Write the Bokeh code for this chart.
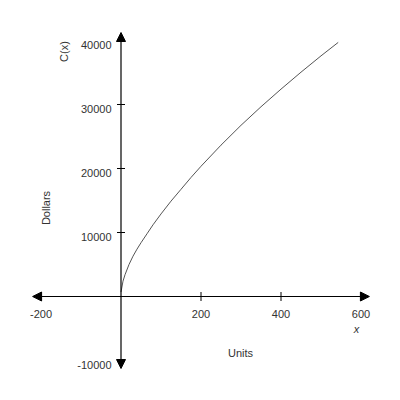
import math
from bokeh.plotting import figure
from bokeh.models import Range1d, Arrow, NormalHead, Label, ColumnDataSource
from bokeh.core.properties import value
from bokeh.embed import file_html
from bokeh.resources import INLINE

# ---- data ----
units = [0, 5, 10, 20, 30, 40, 50, 65, 80, 100, 125, 150, 175, 200, 250, 300, 350, 400, 450, 500, 543]
cost = [700, 2400, 3400, 5000, 6300, 7400, 8400, 9800, 11200, 12900, 14900, 16750, 18600, 20350,
        23650, 26750, 29650, 32400, 35050, 37600, 39700]

x_ticks = [-200, 200, 400, 600]
x_tick_labels = ["-200", "200", "400", "600"]
y_ticks = [-10000, 10000, 20000, 30000, 40000]
y_tick_labels = ["-10000", "10000", "20000", "30000", "40000"]

x_axis_span = (-221, 621)
y_axis_span = (-11250, 41250)

FONT = value("Liberation Sans")

p = figure(width=384, height=384, output_backend="svg", toolbar_location=None,
           x_axis_type=None, y_axis_type=None,
           x_range=Range1d(-301.25, 658.75), y_range=Range1d(-13750, 46250),
           min_border=0, min_border_left=0, min_border_right=0,
           min_border_top=0, min_border_bottom=0)
p.outline_line_color = None
p.grid.visible = False
p.background_fill_color = "white"
p.border_fill_color = "white"

# axes with arrow heads
for xs, ys, xe, ye in [(x_axis_span[0], 0, x_axis_span[1], 0), (0, y_axis_span[0], 0, y_axis_span[1])]:
    p.add_layout(Arrow(x_start=xs, y_start=ys, x_end=xe, y_end=ye,
                       start=NormalHead(size=9, fill_color="black", line_color="black", line_width=1),
                       end=NormalHead(size=9, fill_color="black", line_color="black", line_width=1),
                       line_color="black", line_width=1.2))

# tick marks
p.scatter(x=x_ticks, y=[0] * len(x_ticks), marker="dash", angle=math.pi / 2, size=9,
          line_color="black", line_width=1)
p.scatter(x=[0] * len(y_ticks), y=y_ticks, marker="dash", size=8,
          line_color="black", line_width=1)

# tick labels
p.text(x=x_ticks, y=[0] * len(x_ticks), text=x_tick_labels, text_align="center",
       text_baseline="alphabetic", y_offset=17.5, text_font=FONT,
       text_font_size="11px", text_color="#333333")
p.text(x=[0] * len(y_ticks), y=y_ticks, text=y_tick_labels, text_align="right",
       text_baseline="alphabetic", x_offset=-9.5, y_offset=4, text_font=FONT,
       text_font_size="11px", text_color="#333333")

# curve
src = ColumnDataSource(dict(x=units, y=cost))
p.line("x", "y", source=src, line_color="#555555", line_width=1)

# titles
common = dict(text_font="Liberation Sans", text_font_size="11px", text_color="#333333",
              text_align="center", text_baseline="middle")
p.add_layout(Label(x=-143.75, y=38281, text="C(x)", angle=math.pi / 2, **common))
p.add_layout(Label(x=-188.75, y=13828, text="Dollars", angle=math.pi / 2, **common))
p.add_layout(Label(x=298.75, y=-8906, text="Units", **common))
p.add_layout(Label(x=588.75, y=-5000, text="x", text_font_style="italic", **common))

open("out.html", "w").write(file_html(p, INLINE))
